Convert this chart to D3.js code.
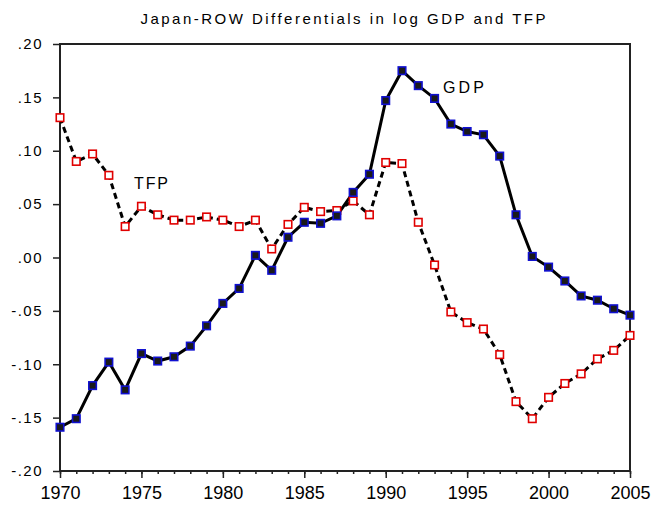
<!DOCTYPE html>
<meta charset="utf-8">
<style>
  body { margin: 0; padding: 0; background: #fff; }
  svg text { font-family: Arial, 'Liberation Sans', sans-serif; fill: #000; }
  .frame { fill: none; stroke: #222; stroke-width: 2; }
  .axis path { display: none; }
  .axis line { stroke: #222; stroke-width: 1.5; }
  .ylab text { font-size: 15px; letter-spacing: 1.5px; }
  .xlab text { font-size: 18px; }
</style>
<body>
<div id="chart"></div>
<script src="https://cdn.jsdelivr.net/npm/d3@7"></script>
<script>
var years = d3.range(1970, 2006);

var gdp = [
    -0.159, -0.151, -0.120, -0.098, -0.124, -0.090, -0.097, -0.093, -0.083, -0.064,
    -0.043, -0.029, 0.002, -0.012, 0.019, 0.033, 0.032, 0.039, 0.061, 0.078,
    0.147, 0.175, 0.161, 0.149, 0.125, 0.118, 0.115, 0.095, 0.040, 0.001,
    -0.009, -0.022, -0.036, -0.040, -0.048, -0.054
];

var tfp = [
    0.131, 0.090, 0.097, 0.077, 0.029, 0.048, 0.040, 0.035, 0.035, 0.038,
    0.035, 0.029, 0.035, 0.008, 0.031, 0.047, 0.043, 0.044, 0.053, 0.040,
    0.089, 0.088, 0.033, -0.007, -0.051, -0.061, -0.067, -0.091, -0.135, -0.151,
    -0.131, -0.118, -0.109, -0.095, -0.087, -0.073
];

var yTicks = [0.20, 0.15, 0.10, 0.05, 0.00, -0.05, -0.10, -0.15, -0.20];
var xTicks = [1970, 1975, 1980, 1985, 1990, 1995, 2000, 2005];

var title = "Japan-ROW Differentials in log GDP and TFP";

var width = 651,
    height = 506,
    margin = { top: 44, right: 21, bottom: 35, left: 60 };

var svg = d3.select("#chart").append("svg")
    .attr("width", width)
    .attr("height", height);

var x = d3.scaleLinear()
    .domain([1970, 2005])
    .range([margin.left, width - margin.right]);

var y = d3.scaleLinear()
    .domain([-0.20, 0.20])
    .range([height - margin.bottom, margin.top]);

function fmt(v) {
    var s = d3.format(".2f")(Math.abs(v)).replace(/^0/, "");
    return (v < -1e-9 ? "-" : "") + s;
}

// title
svg.append("text")
    .attr("x", 343)
    .attr("y", 18)
    .attr("text-anchor", "middle")
    .attr("dominant-baseline", "central")
    .attr("textLength", 405)
    .attr("lengthAdjust", "spacing")
    .style("font-size", "15px")
    .text(title);

// y axis ticks
svg.append("g")
    .attr("class", "axis ylab")
    .attr("transform", "translate(" + margin.left + ",0)")
    .call(d3.axisLeft(y)
        .tickValues(yTicks)
        .tickSize(7)
        .tickPadding(10)
        .tickFormat(fmt));

// x axis minor ticks (every year)
svg.append("g")
    .attr("class", "axis")
    .attr("transform", "translate(0," + (height - margin.bottom) + ")")
    .call(d3.axisBottom(x)
        .tickValues(years)
        .tickSize(3)
        .tickFormat(""));

// x axis major ticks
svg.append("g")
    .attr("class", "axis xlab")
    .attr("transform", "translate(0," + (height - margin.bottom) + ")")
    .call(d3.axisBottom(x)
        .tickValues(xTicks)
        .tickSize(7)
        .tickPadding(8)
        .tickFormat(d3.format("d")));

// frame
svg.append("rect")
    .attr("class", "frame")
    .attr("x", x(1970))
    .attr("y", y(0.20))
    .attr("width", x(2005) - x(1970))
    .attr("height", y(-0.20) - y(0.20));

var line = d3.line()
    .x(function(d, i) { return x(years[i]); })
    .y(function(d) { return y(d); });

// TFP dashed line
svg.append("path")
    .datum(tfp)
    .attr("fill", "none")
    .attr("stroke", "#000")
    .attr("stroke-width", 3)
    .attr("stroke-dasharray", "6,4")
    .attr("d", line);

// GDP solid line
svg.append("path")
    .datum(gdp)
    .attr("fill", "none")
    .attr("stroke", "#000")
    .attr("stroke-width", 3)
    .attr("d", line);

var ms = 7.5;

svg.selectAll(".tfp-pt")
    .data(tfp)
    .enter().append("rect")
    .attr("class", "tfp-pt")
    .attr("x", function(d, i) { return x(years[i]) - ms / 2; })
    .attr("y", function(d) { return y(d) - ms / 2; })
    .attr("width", ms)
    .attr("height", ms)
    .attr("fill", "#fff")
    .attr("stroke", "#e00000")
    .attr("stroke-width", 1.6);

svg.selectAll(".gdp-pt")
    .data(gdp)
    .enter().append("rect")
    .attr("class", "gdp-pt")
    .attr("x", function(d, i) { return x(years[i]) - ms / 2; })
    .attr("y", function(d) { return y(d) - ms / 2; })
    .attr("width", ms)
    .attr("height", ms)
    .attr("fill", "#1a1a1a")
    .attr("stroke", "#1010d0")
    .attr("stroke-width", 1.6);

// series labels
svg.append("text")
    .attr("x", 443)
    .attr("y", 87)
    .attr("dominant-baseline", "central")
    .attr("textLength", 41)
    .style("font-size", "16px")
    .text("GDP");

svg.append("text")
    .attr("x", 134)
    .attr("y", 183)
    .attr("dominant-baseline", "central")
    .attr("textLength", 34)
    .style("font-size", "16px")
    .text("TFP");
</script>
</body>
